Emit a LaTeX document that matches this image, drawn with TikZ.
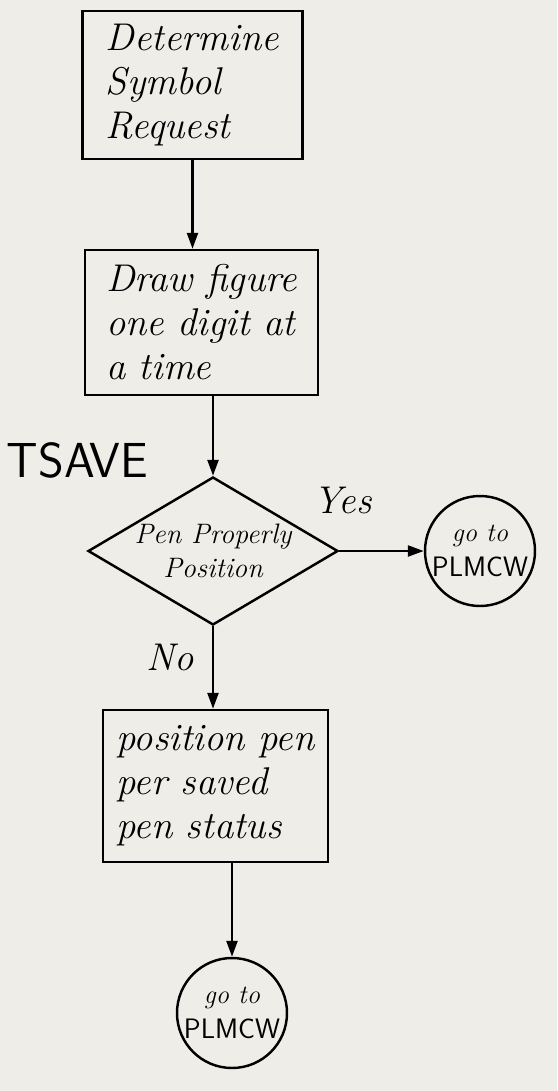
\documentclass[tikz,border=0pt]{standalone}
\usetikzlibrary{shapes.geometric,arrows.meta}
\definecolor{paper}{RGB}{238,237,232}
\begin{document}
\begin{tikzpicture}[line width=1.4pt,
    hand/.style={font=\itshape\fontsize{22}{25}\selectfont},
    procbox/.style={draw,rectangle,hand,align=left,inner sep=0pt},
    goto/.style={draw,circle,minimum size=2.2cm,inner sep=-3pt,align=center,font=\fontsize{16}{20}\selectfont},
    flow/.style={-{Triangle[length=3.2mm,width=2.2mm]}}]
            \fill[paper] (0,0) rectangle (11.14,-21.82);
            \useasboundingbox (0,0) rectangle (11.14,-21.82);
            \node[procbox,minimum width=4.4cm,minimum height=2.95cm] (det) at (3.85,-1.7) {Determine\\Symbol\\Request};
            \node[procbox,minimum width=4.66cm,minimum height=2.9cm] (fig) at (4.03,-6.45) {Draw figure\\one digit at\\a time};
            \node[draw,diamond,aspect=1.69,minimum width=5cm,minimum height=2.96cm,inner sep=0pt,
                  font=\itshape\fontsize{16}{19}\selectfont,align=center] (dec) at (4.26,-11.02) {Pen Properly\\Position};
            \node[goto] (goA) at (9.6,-11.02) {{\itshape\fontsize{15}{16}\selectfont go to}\\{\sffamily PLMCW}};
            \node[procbox,minimum width=4.5cm,minimum height=3.04cm] (pos) at (4.31,-15.72) {position pen\\per saved\\pen status};
            \node[goto] (goB) at (4.64,-20.26) {{\itshape\fontsize{15}{16}\selectfont go to}\\{\sffamily PLMCW}};
            \node[font=\sffamily\fontsize{28}{30}\selectfont] (tsave) at (1.55,-9.2) {TSAVE};
            \node[hand] (yes) at (6.85,-10.0) {Yes};
            \node[hand] (no) at (3.4,-13.15) {No};
            \draw[flow] (det.south) -- (det.south |- fig.north);
            \draw[flow] (fig.south -| dec.north) -- (dec.north);
            \draw[flow] (dec.east) -- (goA.west);
            \draw[flow] (dec.south) -- (dec.south |- pos.north);
            \draw[flow] (goB.north |- pos.south) -- (goB.north);
         \end{tikzpicture}
\end{document}
